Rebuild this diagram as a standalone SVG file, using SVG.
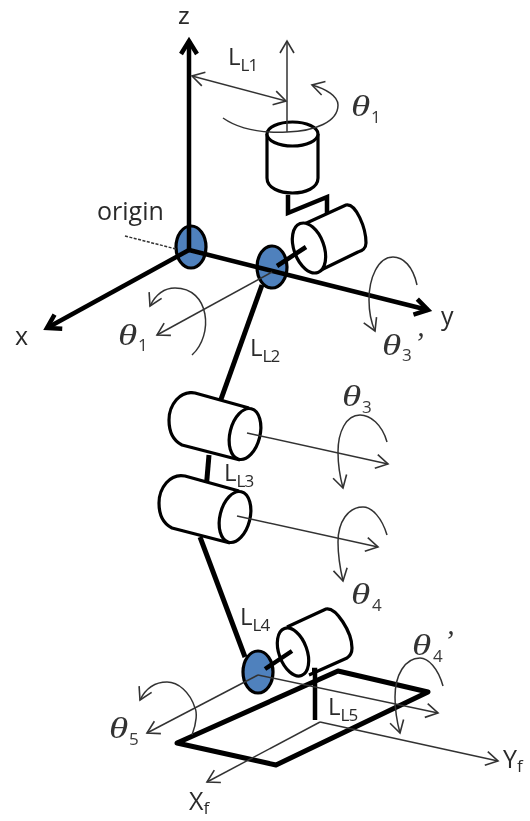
<svg xmlns="http://www.w3.org/2000/svg" width="530" height="821" viewBox="0 0 530 821">
<style>
.t{font-family:"Open Sans","Liberation Sans",sans-serif;font-size:25px;fill:#2a2a2a}
.l{font-size:24px}
.s{font-size:17px;letter-spacing:-0.8px}
.g{font-family:"Liberation Serif","DejaVu Serif",serif;font-style:italic;font-size:29px;fill:#333}
.n{font-family:"Open Sans","Liberation Sans",sans-serif;font-size:17px;fill:#3a3a3a}
.thin{fill:none;stroke:#333;stroke-width:1.5}
.a{marker-end:url(#o)}
.ax{fill:none;stroke:#000;stroke-width:4.5;marker-end:url(#b)}
.link{fill:none;stroke:#000;stroke-width:5}
.cyl{fill:#fff;stroke:#000;stroke-width:3.2;stroke-linejoin:round}
.j{fill:#4f81bd;stroke:#000;stroke-width:3.2}
</style>
<defs>
<marker id="o" markerUnits="userSpaceOnUse" markerWidth="20" markerHeight="20" refX="15" refY="10" orient="auto-start-reverse" overflow="visible"><path d="M3 3L15 10L3 17" fill="none" stroke="#333" stroke-width="1.6"/></marker>
<marker id="b" markerUnits="userSpaceOnUse" markerWidth="24" markerHeight="24" refX="17" refY="12" orient="auto" overflow="visible"><path d="M4 4L17 12L4 20" fill="none" stroke="#000" stroke-width="4.5"/></marker>
<filter id="soft" x="0" y="0" width="100%" height="100%"><feGaussianBlur stdDeviation="0.45"/></filter>
</defs>
<rect width="530" height="821" fill="#fff"/>
<g filter="url(#soft)">
<g id="links">
<path class="link" d="M262 285L220 402"/>
<path class="link" d="M209 455L206 490"/>
<path class="link" d="M200 537L245 657"/>
</g>
<g id="cylinder-1"><path class="cyl" d="M267 134V178C267 198 318 198 318 178V134"/><ellipse class="cyl" cx="292.500" cy="134" rx="25.500" ry="12"/></g>
<g id="bracket"><path fill="none" stroke="#000" stroke-width="4.500" d="M288 195V213L327 197V225"/></g>
<g id="cylinder-2"><path class="cyl" d="M300 226L346 205C356 203 366 228 366 243C366 248 362 251 358 252L319 271"/><ellipse class="cyl" cx="309" cy="248" rx="15" ry="26" transform="rotate(-20 309 248)"/></g>
<g id="cylinder-3"><path class="cyl" d="M249 408L195 393C180 390 169 405 169 420C169 434 174 441 182 445L240 460"/><ellipse class="cyl" cx="245" cy="434" rx="15" ry="26" transform="rotate(14 245 434)"/></g>
<g id="cylinder-4"><path class="cyl" d="M239 491L185 476C170 473 159 488 159 503C159 517 164 524 172 528L230 543"/><ellipse class="cyl" cx="235" cy="517" rx="15" ry="26" transform="rotate(14 235 517)"/></g>
<g id="platform"><path fill="none" stroke="#000" stroke-width="5" stroke-linejoin="round" d="M177 743L338 671L428 692L276 765Z"/></g>
<g id="cylinder-5"><path class="cyl" d="M287 627L326 609C336 607 352 632 352 648C352 653 350 656 347 658L309 675"/><ellipse class="cyl" cx="293" cy="652" rx="14" ry="25" transform="rotate(-20 293 652)"/></g>
<g id="foot-post"><path fill="none" stroke="#000" stroke-width="4.500" d="M312 670H315V720"/></g>
<g id="joint-origin"><ellipse class="j" cx="191" cy="247" rx="15" ry="21"/></g>
<g id="joint-2"><ellipse class="j" cx="272" cy="267" rx="15" ry="21"/></g>
<g id="joint-3"><ellipse class="j" cx="258" cy="672" rx="15" ry="21"/></g>
<g id="connectors">
<path class="thin" d="M125 236L176 249" stroke-dasharray="3 1.5"/>
<path class="ax" d="M189 250V41"/>
<path class="ax" d="M189 250L47 328"/>
<path class="ax" d="M189 250L428 310"/>
<path fill="none" stroke="#000" stroke-width="4.500" d="M277 266L306 247M265 669L292 651"/>
<path class="thin a" d="M287 132V41"/>
<path class="thin a" d="M192 76L286 101" style="marker-start:url(#o)"/>
<path class="thin a" d="M223 118C240 130 265 133 287 132C315 131 338 122 338 105C338 96 326 89 312 85"/>
<path class="thin a" d="M272 272L157 335"/>
<path class="thin a" d="M192 355C214 335 210 288 175 288C163 288 155 296 150 306"/>
<path class="thin a" d="M417 285C413 266 403 257 393 257C378 257 369 278 369 300C369 312 371 322 375 331"/>
<path class="thin a" d="M247 433L388 464"/>
<path class="thin a" d="M237 516L378 547"/>
<path class="thin a" d="M387 442C382 424 370 415 360 415C346 415 338 432 338 452C338 465 340 477 343 488"/>
<path class="thin a" d="M387 535C382 518 372 507 363 507C348 507 338 522 338 542C338 555 340 568 343 581"/>
<path class="thin a" d="M258 675L438 713"/>
<path class="thin a" d="M258 675L147 733"/>
<path class="thin a" d="M320 722L207 782"/>
<path class="thin a" d="M320 722L498 761"/>
<path class="thin a" d="M192 735C197 722 197 712 195 708C190 692 178 682 167 682C155 682 146 688 140 700"/>
<path class="thin a" d="M443 686C438 668 428 658 420 658C405 658 395 675 395 697C395 710 397 722 400 733"/>
</g>
<g id="labels">
<text class="t" x="178" y="24" style="font-family:'Liberation Sans',sans-serif;font-size:24px">z</text>
<text class="t l" x="228" y="65">L<tspan class="s" dy="6">L1</tspan></text>
<text class="t" x="97" y="220">origin</text>
<text class="t" x="15" y="345">x</text>
<text class="t" x="441" y="325">y</text>
<text class="t l" x="250" y="356">L<tspan class="s" dy="6">L2</tspan></text>
<text class="t l" x="224" y="481">L<tspan class="s" dy="6">L3</tspan></text>
<text class="t l" x="240" y="625">L<tspan class="s" dy="6">L4</tspan></text>
<text class="t l" x="328" y="715">L<tspan class="s" dy="6">L5</tspan></text>
<text class="t" x="189" y="810">X<tspan class="s" dy="4">f</tspan></text>
<text class="t" x="503" y="768">Y<tspan class="s" dy="4">f</tspan></text>
<text class="g" transform="translate(351 116) scale(1.35 1)">θ</text><text class="n" x="371" y="123">1</text>
<text class="g" transform="translate(118 345) scale(1.35 1)">θ</text><text class="n" x="138" y="351">1</text>
<text class="g" transform="translate(382 355) scale(1.35 1)">θ</text><text class="n" x="402" y="361">3</text><text class="g" x="414" y="352">’</text>
<text class="g" transform="translate(342 406) scale(1.35 1)">θ</text><text class="n" x="362" y="413">3</text>
<text class="g" transform="translate(351 604) scale(1.35 1)">θ</text><text class="n" x="372" y="611">4</text>
<text class="g" transform="translate(412 655) scale(1.35 1)">θ</text><text class="n" x="433" y="662">4</text><text class="g" x="444" y="650">’</text>
<text class="g" transform="translate(109 738) scale(1.35 1)">θ</text><text class="n" x="129" y="745">5</text>
</g>
</g>
</svg>
